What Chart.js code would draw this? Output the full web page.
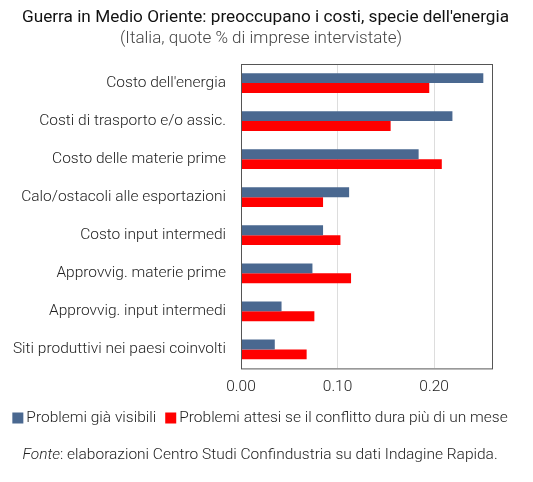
<!DOCTYPE html>
<html>
<head>
<meta charset="utf-8">
<script src="https://cdn.jsdelivr.net/npm/chart.js@4/dist/chart.umd.min.js"></script>
<style>
  html, body { margin: 0; padding: 0; background: #fff; }
  #wrap { width: 533px; height: 482px; }
</style>
</head>
<body>
<div id="wrap"><canvas id="chart"></canvas></div>
<script>
const categories = [
    "Costo dell'energia",
    'Costi di trasporto e/o assic.',
    'Costo delle materie prime',
    'Calo/ostacoli alle esportazioni',
    'Costo input intermedi',
    'Approvvig. materie prime',
    'Approvvig. input intermedi',
    'Siti produttivi nei paesi coinvolti'
];
const giaVisibili = [0.251, 0.219, 0.184, 0.112, 0.085, 0.074, 0.042, 0.035];
const attesi = [0.195, 0.155, 0.208, 0.085, 0.103, 0.114, 0.076, 0.068];
const xTicks = [0, 0.1, 0.2];

const titleText = "Guerra in Medio Oriente: preoccupano i costi, specie dell'energia";
const subtitleText = '(Italia, quote % di imprese intervistate)';

const fontFamily = 'Roboto, "Noto Sans", sans-serif';
const bodyFont = '300 15.5px ' + fontFamily;

// title, subtitle, frame, legend and source note
const decorations = {
    id: 'decorations',
    afterDraw(chart) {
        const { ctx, chartArea: a } = chart;
        const cx = 260;
        ctx.save();

        ctx.strokeStyle = '#555';
        ctx.lineWidth = 1;
        ctx.strokeRect(a.left + 0.5, a.top + 0.5, a.right - a.left, a.bottom - a.top);

        ctx.textBaseline = 'middle';
        ctx.textAlign = 'center';
        ctx.fillStyle = '#111';
        ctx.font = '400 17.2px ' + fontFamily;
        ctx.fillText(titleText, 265.5, 18);
        ctx.fillStyle = '#444';
        ctx.font = '300 17px ' + fontFamily;
        ctx.fillText(subtitleText, cx + 1, 39);

        // legend
        ctx.textAlign = 'left';
        ctx.font = bodyFont;
        const box = 11, gap = 3, itemGap = 9, ly = 418;
        const items = chart.data.datasets.map(d => ({
            text: d.label, color: d.backgroundColor, w: ctx.measureText(d.label).width
        }));
        let total = items.reduce((s, it) => s + box + gap + it.w, 0) + itemGap * (items.length - 1);
        let x = cx - total / 2;
        items.forEach(it => {
            ctx.fillStyle = it.color;
            ctx.fillRect(x, ly - box / 2, box, box);
            ctx.fillStyle = '#222';
            ctx.fillText(it.text, x + box + gap, ly);
            x += box + gap + it.w + itemGap;
        });

        // source
        const fa = 'Fonte';
        const fb = ': elaborazioni Centro Studi Confindustria su dati Indagine Rapida.';
        const fy = 455;
        ctx.font = 'italic 300 15.5px ' + fontFamily;
        const wa = ctx.measureText(fa).width;
        ctx.font = bodyFont;
        const wb = ctx.measureText(fb).width;
        const x0 = cx - (wa + wb) / 2;
        ctx.fillStyle = '#222';
        ctx.font = 'italic 300 15.5px ' + fontFamily;
        ctx.fillText(fa, x0, fy);
        ctx.font = bodyFont;
        ctx.fillText(fb, x0 + wa, fy);

        ctx.restore();
    }
};

new Chart(document.getElementById('chart'), {
    type: 'bar',
    data: {
        labels: categories,
        datasets: [
            {
                label: 'Problemi già visibili',
                data: giaVisibili,
                backgroundColor: '#4a6890'
            },
            {
                label: 'Problemi attesi se il conflitto dura più di un mese',
                data: attesi,
                backgroundColor: '#ff0000'
            }
        ]
    },
    plugins: [decorations],
    options: {
        indexAxis: 'y',
        responsive: true,
        maintainAspectRatio: false,
        animation: false,
        layout: { padding: { left: 0, right: 41, top: 64, bottom: 77 } },
        datasets: {
            bar: { categoryPercentage: 0.52, barPercentage: 1.0 }
        },
        scales: {
            x: {
                min: 0,
                max: 0.26,
                afterBuildTicks(scale) {
                    scale.ticks = xTicks.map(v => ({ value: v }));
                },
                ticks: {
                    color: '#222',
                    font: { family: fontFamily, size: 15.5, weight: '300' },
                    callback: v => v.toFixed(2),
                    padding: 9
                },
                grid: { color: '#ddd', drawTicks: false },
                border: { display: false }
            },
            y: {
                afterFit(scale) { scale.width = 241; },
                ticks: {
                    color: '#222',
                    font: { family: fontFamily, size: 15.5, weight: '300' },
                    padding: 15
                },
                grid: { display: false, drawTicks: false },
                border: { display: false }
            }
        },
        plugins: {
            legend: { display: false },
            tooltip: { enabled: false }
        }
    }
});
</script>
</body>
</html>
